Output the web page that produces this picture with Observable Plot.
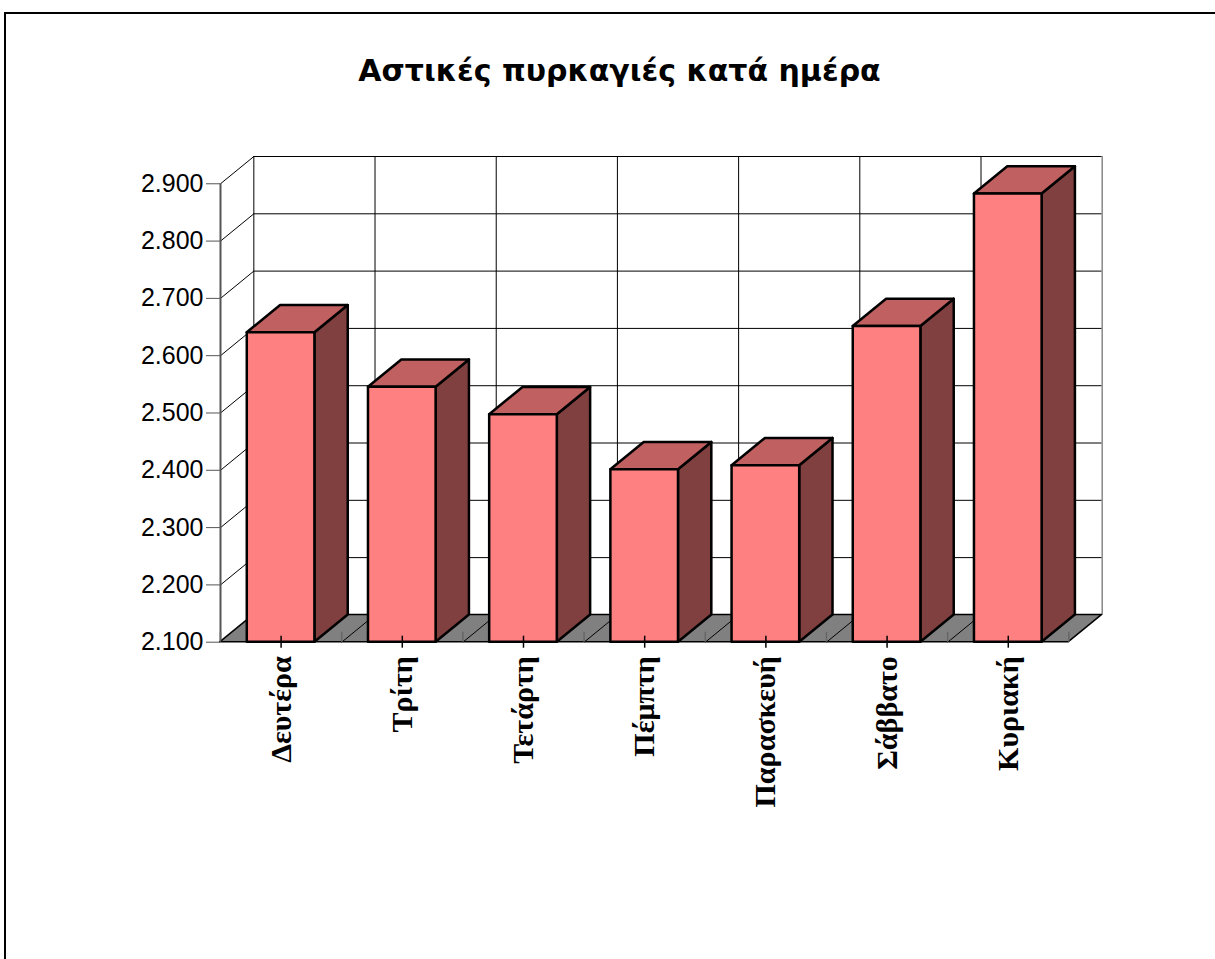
<!DOCTYPE html>
<html>
<head>
<meta charset="utf-8">
<script src="https://cdn.jsdelivr.net/npm/d3@7"></script>
<script src="https://cdn.jsdelivr.net/npm/@observablehq/plot@0.6"></script>
<style>
  html, body { margin: 0; padding: 0; background: #fff; }
  body { width: 1215px; height: 959px; position: relative; overflow: hidden; }
  #frame { position: absolute; left: 4px; top: 12px; width: 1300px; height: 1100px;
           border-left: 2px solid #000; border-top: 2px solid #000; pointer-events: none; }
  #title { position: relative; left: 12px; width: 1215px; height: 120px; box-sizing: border-box;
           padding-top: 53px; text-align: center; font-family: "DejaVu Sans", "Liberation Sans", Arial, sans-serif;
           font-weight: bold; font-size: 30px; line-height: 36px; color: #000; }
  #chart svg { display: block; }
</style>
</head>
<body>
<div id="frame"></div>
<div id="title">Αστικές πυρκαγιές κατά ημέρα</div>
<div id="chart"></div>
<script>
// ---- data ----
const days = ["Δευτέρα", "Τρίτη", "Τετάρτη", "Πέμπτη", "Παρασκευή", "Σάββατο", "Κυριακή"];
const fires = [2640, 2545, 2497, 2401, 2408, 2651, 2882];
const yTicks = [2100, 2200, 2300, 2400, 2500, 2600, 2700, 2800, 2900];

// ---- 3D projection constants (depth offset in data units) ----
const DX = 0.275;   // depth shift along x (category units)
const DY = 47.6;    // depth shift along y (value units)
const BW = 0.558;   // bar width fraction of a category
const Y0 = yTicks[0];
const Ymax = yTicks[yTicks.length - 1];
const n = days.length;

const bars = days.map((d, i) => {
  const xl = i + (1 - BW) / 2;
  return {day: d, i, v: fires[i], xl, xr: xl + BW};
});

const topFaces = bars.flatMap(b => [0, 1].map(t => ({bar: b.i, y: b.v + DY * t, x1: b.xl + DX * t, x2: b.xr + DX * t})));
const sideFaces = bars.flatMap(b => [0, 1].map(t => ({bar: b.i, x: b.xr + DX * t, y1: Y0 + DY * t, y2: b.v + DY * t})));
const floor = [0, 1].map(t => ({y: Y0 + DY * t, x1: 0 + DX * t, x2: n + DX * t}));
const boundaries = d3.range(0, n + 1);
const centers = d3.range(n).map(i => i + 0.5);

const fmt = v => d3.format(",")(v).replace(/,/g, ".");

const plot = Plot.plot({
  width: 1215,
  height: 760,
  marginTop: 36,
  marginBottom: 760 - 521.7,
  marginLeft: 220,
  marginRight: 1215 - 1101.7,
  style: {fontFamily: "'Liberation Sans', Arial, sans-serif", fontSize: "25px", color: "#000", background: "#fff"},
  x: {type: "linear", domain: [0, n + DX], axis: null},
  y: {domain: [Y0, Ymax + DY], axis: null},
  marks: [
    // back wall horizontal gridlines
    Plot.ruleY(yTicks.slice(1), {y: d => d + DY, x1: DX, x2: n + DX, stroke: "#000", strokeWidth: 1}),
    // back wall vertical gridlines
    Plot.ruleX(boundaries.slice(0, n), {x: d => d + DX, y1: Y0 + DY, y2: Ymax + DY, stroke: "#000", strokeWidth: 1}),
    Plot.ruleX([n], {x: d => d + DX, y1: Y0 + DY, y2: Ymax + DY, stroke: "#888", strokeWidth: 1.5}),
    // left wall diagonals
    Plot.link(yTicks.slice(1), {x1: 0, y1: d => d, x2: DX, y2: d => d + DY, stroke: "#000", strokeWidth: 1}),
    // left wall front edge (value axis line)
    Plot.ruleX([0], {y1: Y0, y2: Ymax, stroke: "#555", strokeWidth: 2}),
    // value axis
    Plot.axisY(yTicks, {anchor: "left", tickSize: 14, tickPadding: 3, fontSize: 25, tickFormat: fmt, stroke: "#555", fill: "#000"}),
    // floor
    Plot.areaX(floor, {y: "y", x1: "x1", x2: "x2", fill: "#808080", stroke: "#000", strokeWidth: 1.5}),
    Plot.link(boundaries.slice(1, n), {x1: d => d, y1: Y0, x2: d => d + DX, y2: Y0 + DY, stroke: "#000", strokeWidth: 1}),
    // category boundary ticks
    Plot.ruleX(boundaries, {x: d => d, y1: Y0, y2: Y0, insetTop: -10, insetBottom: 0, stroke: "#666", strokeWidth: 1.5}),
    // bars: side, top, front
    Plot.areaY(sideFaces, {x: "x", y1: "y1", y2: "y2", z: "bar", fill: "#804040", stroke: "#000", strokeWidth: 2.5, strokeLinejoin: "round"}),
    Plot.areaX(topFaces, {y: "y", x1: "x1", x2: "x2", z: "bar", fill: "#C06060", stroke: "#000", strokeWidth: 2.5, strokeLinejoin: "round"}),
    Plot.rect(bars, {x1: "xl", x2: "xr", y1: Y0, y2: "v", fill: "#FF8080", stroke: "#000", strokeWidth: 2.5, strokeLinejoin: "round"}),
    // category center ticks
    Plot.ruleX(centers, {x: d => d, y1: Y0, y2: Y0, insetTop: -6, insetBottom: -6, stroke: "#000", strokeWidth: 1.5}),
    // category labels
    Plot.text(bars, {x: d => d.i + 0.5, y: Y0, text: "day", rotate: -90, textAnchor: "end", lineAnchor: "middle",
      dy: 14, fontSize: 30, fontWeight: "bold", fontFamily: "'Liberation Serif', 'Times New Roman', serif", fill: "#000"})
  ]
});
document.getElementById("chart").appendChild(plot);
</script>
</body>
</html>
